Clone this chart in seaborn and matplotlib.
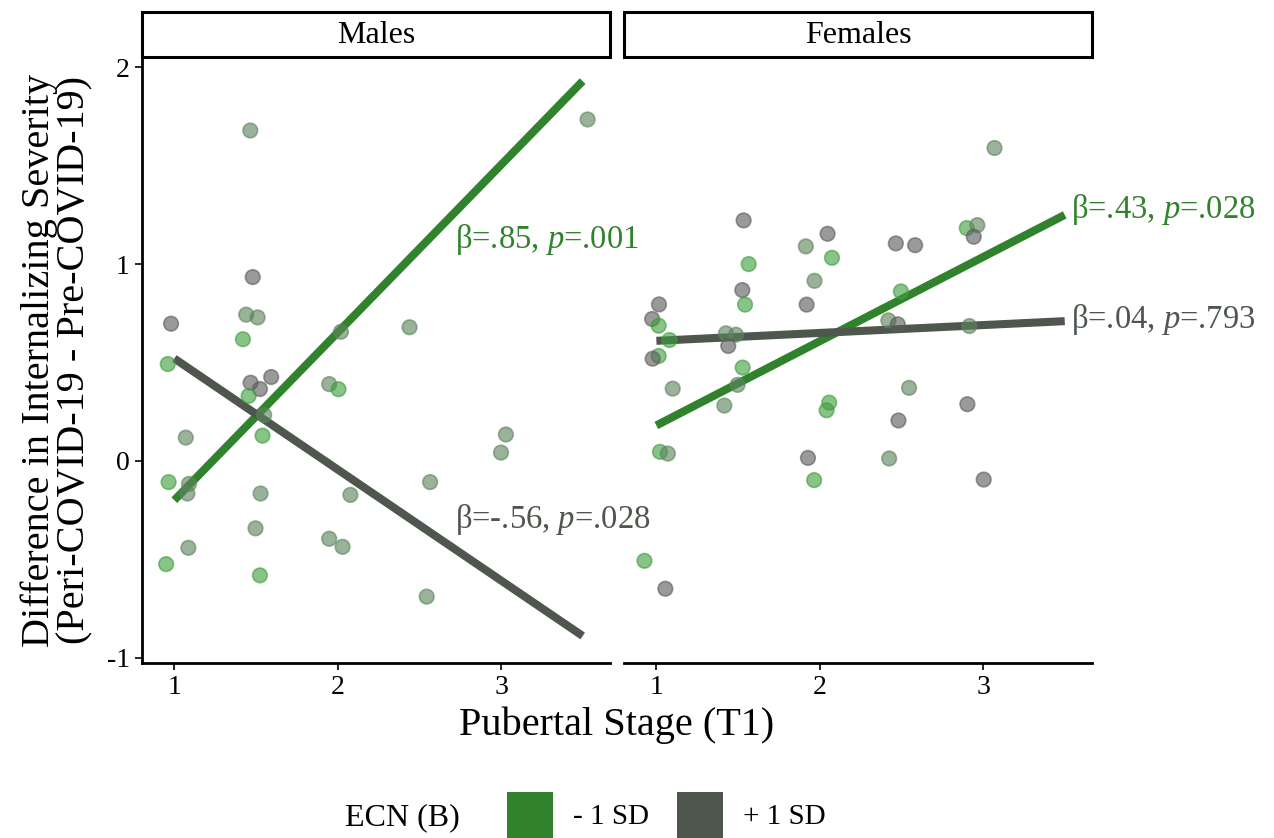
import matplotlib
matplotlib.use("Agg")
import matplotlib.pyplot as plt
from matplotlib.patches import Patch, Rectangle
import seaborn as sns
import pandas as pd

# datos (puntos por panel)
males_x = [1.465, 3.53, 1.48, 0.98, 1.44, 1.51, 1.42, 2.02, 2.44, 0.96,
           1.467, 1.593, 1.524, 1.455, 1.948, 2.005, 1.55, 1.07, 1.54, 3.03,
           3.0, 0.965, 1.09, 1.08, 2.566, 1.528, 2.078, 1.497, 1.948, 2.03,
           1.086, 0.95, 1.524, 2.545]
males_y = [1.679, 1.735, 0.934, 0.697, 0.743, 0.729, 0.618, 0.656, 0.679, 0.492,
           0.397, 0.426, 0.365, 0.33, 0.39, 0.364, 0.233, 0.118, 0.128, 0.134,
           0.042, -0.108, -0.117, -0.166, -0.108, -0.166, -0.173, -0.343, -0.396, -0.437,
           -0.442, -0.525, -0.582, -0.69]
males_tono = ["s", "s", "k", "k", "s", "s", "g", "s", "s", "g",
              "k", "k", "k", "g", "s", "g", "s", "s", "g", "s",
              "s", "g", "s", "s", "s", "s", "s", "s", "s", "s",
              "s", "g", "g", "s"]

females_x = [3.07, 1.534, 2.048, 1.915, 2.075, 1.565, 1.968, 2.466, 2.584, 2.9,
             2.965, 2.943, 1.526, 1.543, 1.92, 1.016, 0.974, 1.014, 2.497, 2.42,
             2.478, 2.916, 1.08, 1.426, 1.487, 1.44, 1.014, 0.977, 1.528, 1.1,
             1.497, 2.547, 1.416, 2.058, 2.042, 2.904, 2.482, 1.022, 1.07, 1.928,
             2.425, 1.966, 3.004, 0.927, 1.055]
females_y = [1.59, 1.222, 1.154, 1.09, 1.032, 1.0, 0.915, 1.105, 1.096, 1.183,
             1.198, 1.139, 0.868, 0.794, 0.794, 0.795, 0.721, 0.687, 0.861, 0.714,
             0.694, 0.685, 0.614, 0.648, 0.641, 0.584, 0.533, 0.519, 0.474, 0.367,
             0.386, 0.371, 0.281, 0.296, 0.257, 0.288, 0.205, 0.046, 0.037, 0.015,
             0.012, -0.098, -0.095, -0.508, -0.65]
females_tono = ["s", "k", "k", "s", "g", "g", "s", "k", "k", "g",
                "s", "k", "k", "g", "k", "k", "k", "g", "g", "s",
                "k", "s", "g", "s", "s", "k", "g", "k", "g", "s",
                "s", "s", "s", "g", "g", "k", "k", "g", "s", "k",
                "s", "g", "k", "g", "k"]

# rectas de regresion simple (ECN -1 SD / +1 SD)
linea_x = [1.0, 3.5]
males_bajo = [-0.20, 1.93]
males_alto = [0.52, -0.89]
females_bajo = [0.18, 1.25]
females_alto = [0.61, 0.71]

etiquetas = {
    "Males": [(r"β=.85, $\mathit{p}$=.001", 2.72, 1.125, "bajo"),
              (r"β=-.56, $\mathit{p}$=.028", 2.72, -0.30, "alto")],
    "Females": [(r"β=.43, $\mathit{p}$=.028", 3.54, 1.278, "bajo"),
                (r"β=.04, $\mathit{p}$=.793", 3.54, 0.719, "alto")],
}

verde = "#31822d"
gris = "#4e564e"
tonos = {"g": "#3f9e3f", "s": "#5d845d", "k": "#5c5c5c"}

sns.set_theme(style="white")
plt.rcParams["font.family"] = ["Liberation Serif", "DejaVu Serif"]
plt.rcParams["mathtext.fontset"] = "custom"
plt.rcParams["mathtext.rm"] = "Liberation Serif"
plt.rcParams["mathtext.it"] = "Liberation Serif:italic"
plt.rcParams["axes.unicode_minus"] = False
plt.rcParams["text.color"] = "black"
plt.rcParams["axes.labelcolor"] = "black"

fig, axes = plt.subplots(1, 2, figsize=(12.74, 8.38), dpi=100, sharey=True)
fig.subplots_adjust(left=0.1117, right=0.8569, bottom=0.2094, top=0.9314, wspace=0.0315)

paneles = [
    ("Males", males_x, males_y, males_tono, males_bajo, males_alto),
    ("Females", females_x, females_y, females_tono, females_bajo, females_alto),
]

for ax, (nombre, xs, ys, tono, bajo, alto) in zip(axes, paneles):
    df = pd.DataFrame({"x": xs, "y": ys, "tono": tono})
    ax.patch.set_visible(False)
    ax.plot(linea_x, bajo, color=verde, lw=5.8, solid_capstyle="butt", zorder=2)
    ax.plot(linea_x, alto, color=gris, lw=5.8, solid_capstyle="butt", zorder=2)
    sns.scatterplot(data=df, x="x", y="y", hue="tono", palette=tonos, s=110,
                    alpha=0.62, linewidth=1.2, edgecolor=None, legend=False,
                    ax=ax, zorder=3)
    # bordes del punto un poco mas oscuros
    ax.collections[-1].set_edgecolor(ax.collections[-1].get_facecolor())

    for texto, tx, ty, cual in etiquetas[nombre]:
        ax.text(tx, ty, texto, color=verde if cual == "bajo" else gris,
                fontsize=23.5, ha="left", va="center", clip_on=False, zorder=5)

    ax.set_xlim(0.804, 3.665)
    ax.set_ylim(-1.025, 2.05)
    ax.set_xticks([1, 2, 3])
    ax.set_yticks([-1, 0, 1, 2])
    ax.set_xlabel("")
    ax.set_ylabel("")
    ax.tick_params(axis="both", labelsize=20, length=5, width=1.2, color="black",
                   direction="out", pad=4, labelcolor="black")
    for lado in ["top", "right"]:
        ax.spines[lado].set_visible(False)
    ax.spines["bottom"].set_linewidth(2)
    ax.spines["bottom"].set_color("black")
    ax.spines["left"].set_linewidth(2)
    ax.spines["left"].set_color("black")

    # tira del facet
    ax.add_patch(Rectangle((0, 1.0), 1, 0.0744, transform=ax.transAxes,
                           facecolor="white", edgecolor="black", lw=2.2,
                           clip_on=False))
    ax.text(0.5, 1.037, nombre, transform=ax.transAxes, ha="center", va="center",
            fontsize=23, color="black")

axes[1].spines["left"].set_visible(False)
axes[1].tick_params(axis="y", left=False, labelleft=False)
axes[0].tick_params(axis="y", left=True)
axes[0].tick_params(axis="x", bottom=True)
axes[1].tick_params(axis="x", bottom=True)

fig.text(0.0445, 0.5704, "Difference in Internalizing Severity\n(Peri-COVID-19 - Pre-COVID-19)",
         rotation=90, ha="center", va="center", fontsize=29, linespacing=0.95)
fig.text(0.4843, 0.1348, "Pubertal Stage (T1)", ha="center", va="center", fontsize=29)

# leyenda
fig.text(345 / 1274, 1 - 818 / 838, "ECN (B)", ha="left", va="center", fontsize=23)
manejadores = [Patch(facecolor=verde, edgecolor="none"), Patch(facecolor=gris, edgecolor="none")]
fig.legend(manejadores, ["- 1 SD", "+ 1 SD"], loc="center left",
           bbox_to_anchor=(507 / 1274, 1 - 815 / 838), ncol=2, frameon=False,
           fontsize=21, handlelength=1.59, handleheight=2.0, handletextpad=0.68,
           columnspacing=0.95, borderpad=0, borderaxespad=0)

fig.savefig("out.png", dpi=100)
